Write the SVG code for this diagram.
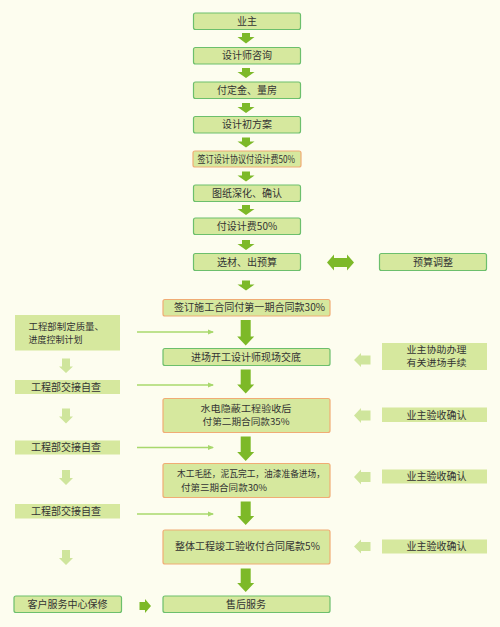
<svg xmlns="http://www.w3.org/2000/svg" width="500" height="627" viewBox="0 0 500 627">
<style>
text{font-family:"Noto Sans CJK SC","Noto Sans",sans-serif;font-size:10px;fill:#333;}
.c{text-anchor:middle;}
.m{font-size:9px;}
.bx{fill:#d6e89e;stroke:#6cbf6c;stroke-width:1.2;}
.bo{fill:#d6e89e;stroke:#f0ac74;stroke-width:1.2;}
.bl{fill:#d6e89e;stroke:none;}
.ar{fill:#7db928;}
.la{fill:#cfe59c;}
.tl{stroke:#a8d86c;stroke-width:1.5;fill:none;}
</style>
<defs>
<marker id="th" markerWidth="6" markerHeight="6" refX="5" refY="3" orient="auto" markerUnits="userSpaceOnUse">
<path d="M0,0.5 L6,3 L0,5.5 z" fill="#a8d86c"/>
</marker>
</defs>
<rect width="500" height="627" fill="#fdfdef"/>

<g id="connectors">
<path class="ar" d="M242,33 h8 v4 h4.5 l-8.5,6.5 l-8.5,-6.5 h4.5 z"/>
<path class="ar" d="M242,68 h8 v4 h4.5 l-8.5,6 l-8.5,-6 h4.5 z"/>
<path class="ar" d="M242,103 h8 v4 h4.5 l-8.5,6 l-8.5,-6 h4.5 z"/>
<path class="ar" d="M242,137.5 h8 v4 h4.5 l-8.5,6 l-8.5,-6 h4.5 z"/>
<path class="ar" d="M242,171.5 h8 v4 h4.5 l-8.5,6 l-8.5,-6 h4.5 z"/>
<path class="ar" d="M242,205 h8 v4 h4.5 l-8.5,6 l-8.5,-6 h4.5 z"/>
<path class="ar" d="M242,240 h8 v4 h4.5 l-8.5,6 l-8.5,-6 h4.5 z"/>
<path class="ar" d="M242,280.5 h8 v4 h4.5 l-8.5,6 l-8.5,-6 h4.5 z"/>
<path class="ar" d="M327,262.5 l7,-8 v3.5 h13 v-3.5 l7,8 l-7,8 v-3.5 h-13 v3.5 z"/>
<path class="ar" d="M240.7,320 h10 v16.5 h3.5 l-8.5,9 l-8.5,-9 h3.5 z"/>
<path class="ar" d="M240.7,369.5 h10 v15 h3.5 l-8.5,9 l-8.5,-9 h3.5 z"/>
<path class="ar" d="M240.7,436.5 h10 v15.5 h3.5 l-8.5,9 l-8.5,-9 h3.5 z"/>
<path class="ar" d="M240.7,501.5 h10 v14.5 h3.5 l-8.5,9 l-8.5,-9 h3.5 z"/>
<path class="ar" d="M240.7,568.5 h10 v14.5 h3.5 l-8.5,9 l-8.5,-9 h3.5 z"/>
<path class="ar" d="M139.5,602 h5.5 v-3 l6,7 l-6,7 v-3 h-5.5 z"/>
<path class="la" d="M354,360 l7,-7 v2.5 h9.5 v9 h-9.5 v2.5 z"/>
<path class="la" d="M354,415.5 l7,-7.5 v2.5 h9.5 v10 h-9.5 v2.5 z"/>
<path class="la" d="M354,477 l7,-7.5 v2.5 h9.5 v10 h-9.5 v2.5 z"/>
<path class="la" d="M354,546.5 l7,-7 v2.5 h9.5 v9 h-9.5 v2.5 z"/>
<path class="la" d="M62,358.5 h8 v8 h3 l-7,6.5 l-7,-6.5 h3 z"/>
<path class="la" d="M62,408.5 h8 v8 h3 l-7,7 l-7,-7 h3 z"/>
<path class="la" d="M62,470 h8 v8 h3 l-7,7 l-7,-7 h3 z"/>
<path class="la" d="M62,550 h8 v8 h3 l-7,7 l-7,-7 h3 z"/>
<line class="tl" x1="137" y1="332" x2="213" y2="332" marker-end="url(#th)"/>
<line class="tl" x1="137" y1="385" x2="213" y2="385" marker-end="url(#th)"/>
<line class="tl" x1="137" y1="447.5" x2="213" y2="447.5" marker-end="url(#th)"/>
<line class="tl" x1="137" y1="514" x2="213" y2="514" marker-end="url(#th)"/>
</g>

<g id="n1"><rect class="bx" x="193.5" y="13" width="107" height="16.5" rx="2"/><text class="c" x="247" y="24.8">业主</text></g>
<g id="n2"><rect class="bx" x="193.5" y="47.5" width="107" height="16.5" rx="2"/><text class="c" x="247" y="59.3">设计师咨询</text></g>
<g id="n3"><rect class="bx" x="193.5" y="82" width="107" height="16.5" rx="2"/><text class="c" x="247" y="93.8">付定金、量房</text></g>
<g id="n4"><rect class="bx" x="193.5" y="116.5" width="107" height="16.5" rx="2"/><text class="c" x="247" y="128.3">设计初方案</text></g>
<g id="n5"><rect class="bo" x="193" y="151" width="108" height="16" rx="2"/><text x="197.5" y="162.5" font-size="8.8" textLength="97.5" lengthAdjust="spacingAndGlyphs">签订设计协议付设计费50%</text></g>
<g id="n6"><rect class="bx" x="193.5" y="185" width="107" height="16.5" rx="2"/><text class="c" x="247" y="196.8">图纸深化、确认</text></g>
<g id="n7"><rect class="bx" x="193.5" y="218" width="107" height="16.5" rx="2"/><text class="c" x="247" y="229.8">付设计费50%</text></g>
<g id="n8"><rect class="bx" x="193.5" y="253.5" width="107" height="17" rx="2"/><text class="c" x="247" y="265.5">选材、出预算</text></g>
<g id="n9"><rect class="bx" x="379.5" y="253.5" width="107" height="17" rx="2"/><text class="c" x="433" y="265.5">预算调整</text></g>
<g id="n10"><rect class="bo" x="163" y="299.5" width="167" height="16.5" rx="2"/><text x="174" y="311.3" font-size="9.6" textLength="151" lengthAdjust="spacingAndGlyphs">签订施工合同付第一期合同款30%</text></g>
<g id="n11"><rect class="bl" x="15" y="315" width="105" height="35.5"/><text class="m" x="28.5" y="329.6" textLength="75.5" lengthAdjust="spacingAndGlyphs">工程部制定质量、</text><text class="m" x="28.5" y="342.8">进度控制计划</text></g>
<g id="n12"><rect class="bx" x="163" y="348.5" width="167" height="17" rx="2"/><text class="c" x="246" y="360.5">进场开工设计师现场交底</text></g>
<g id="n13"><rect class="bl" x="382" y="343" width="105" height="27"/><text class="c m" x="436.5" y="353.1" textLength="60" lengthAdjust="spacingAndGlyphs">业主协助办理</text><text class="c m" x="436.5" y="366.3" textLength="60" lengthAdjust="spacingAndGlyphs">有关进场手续</text></g>
<g id="n14"><rect class="bl" x="15" y="380" width="105" height="14"/><text class="c" x="66" y="390.7">工程部交接自查</text></g>
<g id="n15"><rect class="bo" x="163" y="398.5" width="167" height="34" rx="2"/><text class="c m" x="246" y="412.1" textLength="91" lengthAdjust="spacingAndGlyphs">水电隐蔽工程验收后</text><text class="c m" x="246" y="425.3" textLength="87" lengthAdjust="spacingAndGlyphs">付第二期合同款35%</text></g>
<g id="n16"><rect class="bl" x="382" y="407.5" width="105" height="14.5"/><text class="c" x="436.5" y="418.5">业主验收确认</text></g>
<g id="n17"><rect class="bl" x="15" y="440.5" width="105" height="14"/><text class="c" x="66" y="451.2">工程部交接自查</text></g>
<g id="n18"><rect class="bo" x="163" y="463.5" width="167" height="34" rx="2"/><text class="m" x="177" y="477.3" textLength="148" lengthAdjust="spacingAndGlyphs">木工毛胚，泥瓦完工，油漆准备进场，</text><text class="m" x="181" y="490.5" textLength="86" lengthAdjust="spacingAndGlyphs">付第三期合同款30%</text></g>
<g id="n19"><rect class="bl" x="382" y="469.5" width="105" height="14"/><text class="c" x="436.5" y="480.2">业主验收确认</text></g>
<g id="n20"><rect class="bl" x="15" y="504" width="105" height="14.5"/><text class="c" x="66" y="515">工程部交接自查</text></g>
<g id="n21"><rect class="bo" x="163" y="530" width="167" height="34" rx="2"/><text class="c" x="247.5" y="550.3" font-size="9.7">整体工程竣工验收付合同尾款5%</text></g>
<g id="n22"><rect class="bl" x="382" y="539.5" width="105" height="14"/><text class="c" x="436.5" y="550.2">业主验收确认</text></g>
<g id="n23"><rect class="bx" x="14" y="596" width="107.5" height="16.5" rx="2"/><text class="c" x="67.5" y="607.8">客户服务中心保修</text></g>
<g id="n24"><rect class="bx" x="163" y="596" width="167" height="16.5" rx="2"/><text class="c" x="246" y="607.8">售后服务</text></g>
</svg>
